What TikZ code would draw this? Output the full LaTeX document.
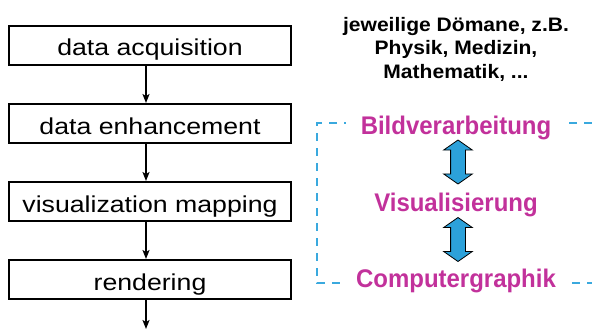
\documentclass[tikz,border=0pt]{standalone}
\usepackage{fontspec}
\setmainfont{Liberation Sans}
\newfontfamily\stepfont[FakeStretch=1.16]{Liberation Sans}
\newfontfamily\headfont[FakeStretch=1.08]{Liberation Sans}
\newfontfamily\fieldfont[FakeStretch=0.94]{Liberation Sans}
\usetikzlibrary{positioning, arrows.meta, shapes.arrows}

\definecolor{fieldmagenta}{RGB}{194,49,155}
\definecolor{fieldblue}{RGB}{44,161,218}
\definecolor{linkblue}{RGB}{58,169,222}

\tikzset{
    stepbox/.style={draw, line width=2pt, minimum width=282pt, minimum height=39pt,
                    inner sep=0pt, text height=21pt, text depth=0pt,
                    font=\stepfont\fontsize{23}{27}\selectfont},
    flow/.style={line width=1.4pt, -{Stealth[length=9pt, width=7pt, inset=2pt]}},
    field/.style={fill=white, inner xsep=15pt, inner ysep=1pt, anchor=base,
                  text=fieldmagenta, font=\fieldfont\bfseries\fontsize{25.5}{30}\selectfont},
    dblarrow/.style={double arrow, draw=black, line width=0.8pt, fill=fieldblue,
                     rotate=90, inner xsep=0pt, inner ysep=7pt, minimum height=44pt,
                     double arrow head extend=7pt, double arrow tip angle=110}
}

\begin{document}
\begin{tikzpicture}[x=1pt, y=-1pt]
            \useasboundingbox (0,0) rectangle (592,329);

            % pipeline steps
            \node[stepbox] (acq) at (150,45.5) {data acquisition};
            \node[stepbox, below=37pt of acq] (enh) {data enhancement};
            \node[stepbox, below=37pt of enh] (map) {visualization mapping};
            \node[stepbox, below=37pt of map] (ren) {rendering};
            \coordinate (out) at (146,329);

            % arrows between the steps
            \draw[flow] ([xshift=-4pt]acq.south) -- ([xshift=-4pt]enh.north);
            \draw[flow] ([xshift=-4pt]enh.south) -- ([xshift=-4pt]map.north);
            \draw[flow] ([xshift=-4pt]map.south) -- ([xshift=-4pt]ren.north);
            \draw[flow] ([xshift=-4pt]ren.south) -- (out);

            % domain text
            \node[anchor=base, align=center, font=\headfont\bfseries\fontsize{19.5}{23.7}\selectfont] (domain) at (456,78.5)
                {jeweilige Dömane, z.B.\\ Physik, Medizin,\\ Mathematik, ...};

            % dashed bracket behind the fields
            \draw[linkblue, line width=1.6pt, dash pattern=on 8pt off 7pt]
                (592,123) -- (317,123) -- (317,283) -- (592,283);

            % the three fields
            \node[field] (bild) at (456,135) {Bildverarbeitung};
            \node[field] (vis) at (456,211) {Visualisierung};
            \node[field] (comp) at (456,287) {Computergraphik};

            % double arrows between the fields
            \node[dblarrow] (link1) at (458,162) {};
            \node[dblarrow] (link2) at (458,239.5) {};
\end{tikzpicture}
\end{document}
